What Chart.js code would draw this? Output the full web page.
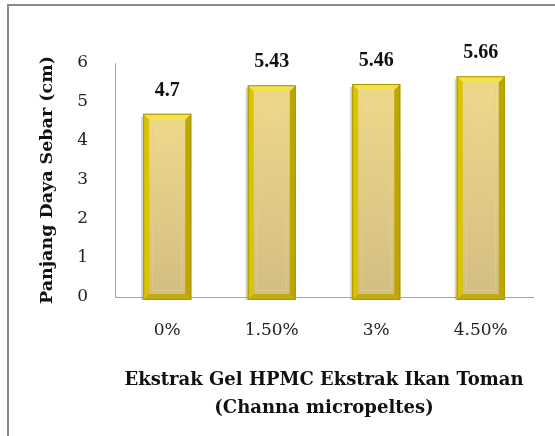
<!DOCTYPE html>
<html>
<head>
<meta charset="utf-8">
<script src="https://cdn.jsdelivr.net/npm/chart.js@4/dist/chart.umd.min.js"></script>
<style>
  html, body { margin: 0; padding: 0; background: #fff; }
  #wrap { position: relative; width: 555px; height: 436px; }
  #frame { position: absolute; left: 7px; top: 4px; right: 0; bottom: 0;
           border-left: 2px solid #8a8a8a; border-top: 2px solid #8a8a8a; }
  canvas { position: absolute; left: 0; top: 0; }
</style>
</head>
<body>
<div id="wrap">
  <div id="frame"></div>
  <canvas id="c" width="555" height="436"></canvas>
</div>
<script>
// Spreading diameter of the gel for each extract concentration
const categories = ['0%', '1.50%', '3%', '4.50%'];
const spreadValues = [4.7, 5.43, 5.46, 5.66];
const yTicks = [0, 1, 2, 3, 4, 5, 6];
const xTitle = ['Ekstrak Gel HPMC Ekstrak Ikan Toman', '(Channa micropeltes)'];
const yTitle = 'Panjang Daya Sebar (cm)';

const FONT = "'DejaVu Serif', 'Liberation Serif', serif";
const LABEL_FONT = "'Liberation Serif', 'DejaVu Serif', serif";

// Gold bevelled look drawn over each bar element
const bevelBars = {
  id: 'bevelBars',
  afterDatasetsDraw(chart) {
    const ctx = chart.ctx;
    const meta = chart.getDatasetMeta(0);
    meta.data.forEach((bar, i) => {
      const p = bar.getProps(['x', 'y', 'base', 'width'], true);
      const l = p.x - p.width / 2, r = p.x + p.width / 2;
      const t = p.y, b = p.base + 3;
      const e = 6;
      ctx.save();
      // soft shadow on the left
      ctx.fillStyle = 'rgba(120,120,120,0.35)';
      ctx.fillRect(l - 2, t + 3, 2, b - t - 3);
      // face
      const g = ctx.createLinearGradient(0, t, 0, b);
      g.addColorStop(0, '#eed98a');
      g.addColorStop(1, '#d2bd82');
      ctx.fillStyle = g;
      ctx.fillRect(l, t, r - l, b - t);
      const quad = (pts, col) => {
        ctx.beginPath();
        ctx.moveTo(pts[0], pts[1]);
        for (let k = 2; k < pts.length; k += 2) ctx.lineTo(pts[k], pts[k + 1]);
        ctx.closePath();
        ctx.fillStyle = col;
        ctx.fill();
      };
      // top bevel
      quad([l, t, r, t, r - e, t + e, l + e, t + e], '#f3e24a');
      // left bevel
      quad([l, t, l + e, t + e, l + e, b - e, l, b], '#d9c400');
      // right bevel
      quad([r, t, r, b, r - e, b - e, r - e, t + e], '#bda600');
      // bottom bevel
      quad([l, b, l + e, b - e, r - e, b - e, r, b], '#c2ab10');
      // faint inner lines
      ctx.strokeStyle = 'rgba(232,205,150,0.7)';
      ctx.lineWidth = 1;
      ctx.strokeRect(l + e + 3.5, t + e + 3.5, r - l - 2 * e - 7, b - t - 2 * e - 7);
      // outline
      ctx.strokeStyle = '#a99400';
      ctx.strokeRect(l + 0.5, t + 0.5, r - l - 1, b - t - 1);
      // value label
      ctx.fillStyle = '#111';
      ctx.font = 'bold 20px ' + LABEL_FONT;
      ctx.textAlign = 'center';
      ctx.textBaseline = 'middle';
      ctx.fillText(String(spreadValues[i]), p.x, t - 23);
      ctx.restore();
    });
  }
};

new Chart(document.getElementById('c'), {
  type: 'bar',
  data: {
    labels: categories,
    datasets: [{
      data: spreadValues,
      backgroundColor: 'rgba(0,0,0,0)',
      borderWidth: 0,
      categoryPercentage: 1,
      barPercentage: 0.46
    }]
  },
  options: {
    responsive: false,
    animation: false,
    events: [],
    layout: { padding: { left: 10, top: 63, right: 22, bottom: 4 } },
    plugins: { legend: { display: false }, tooltip: { enabled: false } },
    scales: {
      x: {
        grid: { display: false, drawTicks: false },
        border: { display: true, color: '#a6a6a6', width: 1 },
        ticks: { color: '#222', padding: 23, font: { family: FONT, size: 17 } },
        title: {
          display: true,
          text: xTitle,
          color: '#111',
          padding: { top: 0, bottom: 10 },
          font: { family: FONT, size: 18, weight: 'bold', lineHeight: '28px' }
        },
        afterFit(scale) { scale.height = 135; }
      },
      y: {
        min: 0, max: 6,
        afterBuildTicks(scale) { scale.ticks = yTicks.map(v => ({ value: v })); },
        grid: { display: false, drawTicks: false },
        border: { display: true, color: '#a6a6a6', width: 1 },
        ticks: { color: '#222', padding: 27, font: { family: FONT, size: 17 } },
        title: {
          display: true,
          text: yTitle,
          color: '#111',
          padding: { top: 27, bottom: 0 },
          font: { family: FONT, size: 17.5, weight: 'bold' }
        },
        afterFit(scale) { scale.width = 105; }
      }
    }
  },
  plugins: [bevelBars]
});
</script>
</body>
</html>
